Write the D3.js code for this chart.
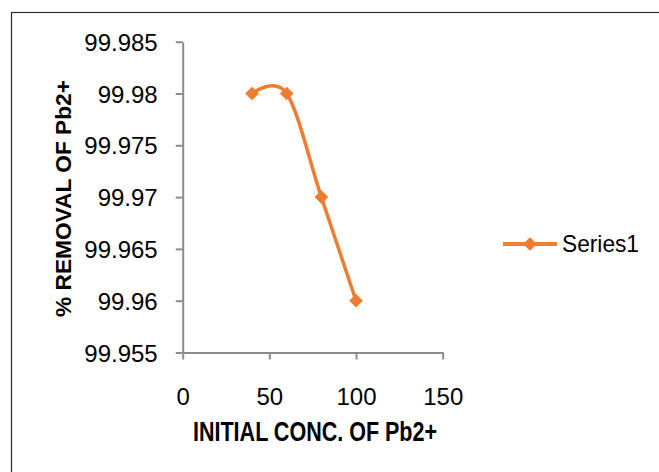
<!DOCTYPE html>
<html>
<head>
<meta charset="utf-8">
<script src="https://cdn.jsdelivr.net/npm/d3@7"></script>
<style>
  body { margin: 0; background: #fff; }
  svg { display: block; }
</style>
</head>
<body>
<svg id="chart" width="659" height="472"></svg>
<script>
// data
const concentration = [40, 60, 80, 100];
const removal = [99.98, 99.98, 99.97, 99.96];
const xTicks = [0, 50, 100, 150];
const yTicks = [99.955, 99.96, 99.965, 99.97, 99.975, 99.98, 99.985];
const seriesName = "Series1";

const orange = "#ED7D31";
const axisGrey = "#8c8c8c";

const svg = d3.select("#chart");

// outer frame (only top and left edges are visible in the picture)
svg.append("rect")
    .attr("x", 11.5)
    .attr("y", 12.5)
    .attr("width", 700)
    .attr("height", 600)
    .attr("fill", "none")
    .attr("stroke", "#2b2b2b")
    .attr("stroke-width", 1.2);

const x = d3.scaleLinear().domain([0, 150]).range([182.7, 442.7]);
const y = d3.scaleLinear().domain([99.955, 99.985]).range([352.5, 41.7]);

const xAxis = d3.axisBottom(x).tickValues(xTicks).tickSize(7).tickSizeOuter(0).tickPadding(28).tickFormat(d3.format("d"));
const yAxis = d3.axisLeft(y).tickValues(yTicks).tickSize(7).tickSizeOuter(0).tickPadding(18).tickFormat(d => +d.toFixed(3));

const gx = svg.append("g")
    .attr("transform", `translate(0, ${y(99.955)})`)
    .call(xAxis);

const gy = svg.append("g")
    .attr("transform", `translate(${x(0)}, 0)`)
    .call(yAxis);

[gx, gy].forEach(g => {
    g.select(".domain").attr("stroke", axisGrey).attr("stroke-width", 2);
    g.selectAll(".tick line").attr("stroke", axisGrey).attr("stroke-width", 2);
    g.selectAll(".tick text")
        .attr("fill", "#000")
        .style("font-family", "'Liberation Sans', Arial, sans-serif")
        .style("font-size", "24px");
});
gy.selectAll(".tick text").attr("dy", "0.36em");

// smoothed line like Excel
const line = d3.line()
    .x((d, i) => x(concentration[i]))
    .y(d => y(d))
    .curve(d3.curveCardinal.tension(0));

svg.append("path")
    .datum(removal)
    .attr("d", line)
    .attr("fill", "none")
    .attr("stroke", orange)
    .attr("stroke-width", 3.5)
    .attr("stroke-linejoin", "round");

const diamond = d3.symbol().type(d3.symbolDiamond2).size(120);

svg.selectAll(".marker")
    .data(removal)
    .enter().append("path")
    .attr("class", "marker")
    .attr("d", diamond)
    .attr("transform", (d, i) => `translate(${x(concentration[i])}, ${y(d)})`)
    .attr("fill", orange);

// axis titles
svg.append("text")
    .attr("x", 315)
    .attr("y", 441)
    .attr("text-anchor", "middle")
    .attr("textLength", 244)
    .attr("lengthAdjust", "spacingAndGlyphs")
    .style("font-family", "'Liberation Sans Narrow', 'Liberation Sans', Arial, sans-serif")
    .style("font-weight", "bold")
    .style("font-size", "27px")
    .text("INITIAL CONC. OF Pb2+");

svg.append("text")
    .attr("transform", "translate(70.7, 198.5) rotate(-90)")
    .attr("text-anchor", "middle")
    .attr("textLength", 237)
    .attr("lengthAdjust", "spacingAndGlyphs")
    .style("font-family", "'Liberation Sans', Arial, sans-serif")
    .style("font-weight", "bold")
    .style("font-size", "22.5px")
    .text("% REMOVAL OF Pb2+");

// legend
const legend = svg.append("g").attr("transform", "translate(503, 244)");

legend.append("line")
    .attr("x1", 0)
    .attr("x2", 54)
    .attr("stroke", orange)
    .attr("stroke-width", 4);

legend.append("path")
    .attr("d", diamond)
    .attr("transform", "translate(27, 0)")
    .attr("fill", orange);

legend.append("text")
    .attr("x", 59)
    .attr("y", 8)
    .attr("textLength", 77)
    .attr("lengthAdjust", "spacingAndGlyphs")
    .style("font-family", "'Liberation Sans', Arial, sans-serif")
    .style("font-size", "24.5px")
    .text(seriesName);
</script>
</body>
</html>
